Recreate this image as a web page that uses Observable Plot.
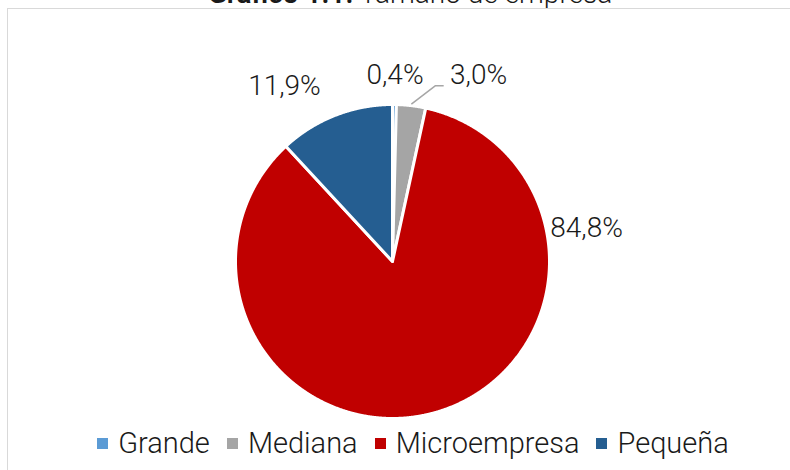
<!DOCTYPE html>
<html><head><meta charset="utf-8">
<script src="https://cdn.jsdelivr.net/npm/d3@7"></script>
<script src="https://cdn.jsdelivr.net/npm/@observablehq/plot@0.6"></script>
<style>
body{margin:0;background:#fff;font-family:Roboto,"Open Sans",sans-serif;}
#wrap{position:relative;width:790px;height:470px;overflow:hidden;background:#fff;}
#frame{position:absolute;left:7px;top:8px;width:820px;height:500px;border-top:1.5px solid #d9d9d9;border-left:1.5px solid #d9d9d9;pointer-events:none}
#title{position:absolute;left:15px;width:790px;text-align:center;top:-20.5px;font-size:28px;font-weight:300;color:#1a1a1a;line-height:28px;white-space:nowrap}
#title b{font-weight:600}
#chart{position:absolute;left:0;top:0}
#legend{position:absolute;left:18px;width:790px;top:428px;display:flex;justify-content:center;align-items:center;font-size:29px;font-weight:300;color:#1a1a1a;line-height:30px;white-space:nowrap}
#legend .item{display:flex;align-items:center;margin:0 8.5px}
#legend .sw{display:inline-block;width:11px;height:11px;margin-right:10px}
</style></head>
<body>
<div id="wrap">
  <div id="title"><b>Gráfico 1.1.</b> Tamaño de empresa</div>
  <div id="chart"></div>
  <div id="legend"></div>
  <div id="frame"></div>
</div>
<script>
// Data
const names = ["Grande", "Mediana", "Microempresa", "Pequeña"];
const values = [0.4, 3.0, 84.8, 11.9];
const valueLabels = ["0,4%", "3,0%", "84,8%", "11,9%"];
const colors = ["#5b9bd5", "#a5a5a5", "#c00000", "#255e91"];

// Layout (label anchor positions in unit-circle coordinates)
const labelX = [0.016, 0.548, 1.236, -0.688];
const labelY = [1.19, 1.19, 0.215, 1.115];

const rows = names.map((n, i) => ({name: n, value: values[i], label: valueLabels[i], lx: labelX[i], ly: labelY[i]}));
const arcs = d3.pie().sort(null).value(d => d.value)(rows);

const slicePts = [];
for (const a of arcs) {
  const n = Math.max(2, Math.ceil((a.endAngle - a.startAngle) / 0.004));
  slicePts.push({name: a.data.name, x: 0, y: 0});
  for (let k = 0; k <= n; k++) {
    const t = a.startAngle + (a.endAngle - a.startAngle) * k / n;
    slicePts.push({name: a.data.name, x: Math.sin(t), y: Math.cos(t)});
  }
}

// leader line for "Mediana" label
const med = arcs[1];
const midA = (med.startAngle + med.endAngle) / 2;
const leader = [
  {x: Math.sin(midA) * 1.01, y: Math.cos(midA) * 1.01},
  {x: rows[1].lx - 0.274, y: rows[1].ly - 0.07},
  {x: rows[1].lx - 0.222, y: rows[1].ly - 0.07}
];

const plot = Plot.plot({
  width: 790,
  height: 425,
  marginLeft: 235,
  marginRight: 241,
  marginTop: 104,
  marginBottom: 7,
  x: {domain: [-1, 1], axis: null},
  y: {domain: [-1, 1], axis: null},
  color: {domain: names, range: colors},
  style: {background: "transparent", fontFamily: "Roboto, 'Open Sans', sans-serif", overflow: "visible"},
  marks: [
    Plot.line(slicePts, {x: "x", y: "y", z: "name", fill: "name", stroke: "white", strokeWidth: 3, curve: "linear-closed", strokeLinejoin: "round"}),
    Plot.line(leader, {x: "x", y: "y", stroke: "#a6a6a6", strokeWidth: 1.5, strokeLinecap: "butt"}),
    Plot.text(rows, {x: "lx", y: "ly", text: "label", fontSize: 28, fontWeight: 300, fill: "#1a1a1a", textAnchor: "middle", lineAnchor: "middle"})
  ]
});
document.getElementById("chart").appendChild(plot);

const leg = document.getElementById("legend");
names.forEach((n, i) => {
  const it = document.createElement("span");
  it.className = "item";
  const sw = document.createElement("span");
  sw.className = "sw";
  sw.style.background = plot.scale("color").apply(n);
  it.appendChild(sw);
  it.appendChild(document.createTextNode(n));
  leg.appendChild(it);
});
</script>
</body></html>
